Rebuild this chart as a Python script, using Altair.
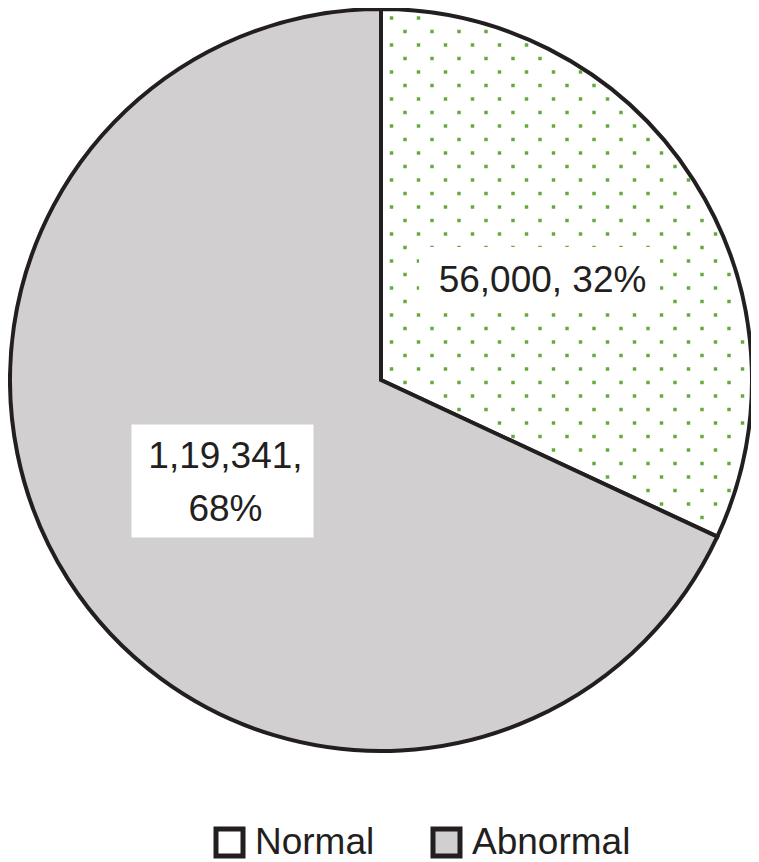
import math
import altair as alt
import pandas as pd

# ---- data ----
categories = ["Normal", "Abnormal"]
counts = [56000, 119341]
labels = ["56,000, 32%", "1,19,341,\n68%"]
order = [0, 1]

# ---- styles ----
fills = ["#ffffff", "#d1cfd0"]
INK = "#231f20"
DOT = "#62aa3c"
FONT = "Liberation Sans"
CX, CY, R = 373, 372, 371   # pie centre / radius in pixels
LR = 188                     # label radius
W, H = 743, 854

df = pd.DataFrame({"category": categories, "count": counts, "label": labels, "order": order})

base = (
    alt.Chart(df)
    .transform_joinaggregate(total="sum(count)")
    .transform_window(cum="sum(count)", sort=[alt.SortField("order")], frame=[None, 0])
    .transform_calculate(a0="2*PI*(datum.cum - datum.count)/datum.total")
    .transform_calculate(a1="2*PI*datum.cum/datum.total")
    .transform_calculate(amid="(datum.a0 + datum.a1)/2")
    .transform_calculate(lx=f"{CX} + {LR}*sin(datum.amid)")
    .transform_calculate(ly=f"{CY} - {LR}*cos(datum.amid)")
)

legend = alt.Legend(
    orient="none", legendX=203, legendY=816, direction="horizontal", title=None,
    symbolType="square", symbolSize=729, symbolStrokeColor=INK, symbolStrokeWidth=5,
    symbolOpacity=1, labelFontSize=37, labelFont=FONT, labelColor=INK,
    labelOffset=7, columnPadding=48, padding=0, labelLimit=400,
)

arcs = base.mark_arc(radius=R, stroke=INK, strokeWidth=4, strokeJoin="miter", opacity=1).encode(
    theta=alt.Theta("a0:Q", scale=None),
    theta2="a1:Q",
    x=alt.value(CX),
    y=alt.value(CY),
    color=alt.Color("category:N", scale=alt.Scale(domain=categories, range=fills), legend=legend),
)

# dotted fill pattern for the first slice
N = 29
M = 2 * N + 1
frac = counts[0] / sum(counts)
aend = 2 * math.pi * frac
ca, sa = math.cos(aend), math.sin(aend)
dots = (
    alt.Chart(alt.sequence(0, M * M, as_="k"))
    .transform_calculate(i=f"floor(datum.k / {M}) - {N}")
    .transform_calculate(j=f"datum.k % {M} - {N}")
    .transform_calculate(dx="10.5 + 13.5*datum.i")
    .transform_calculate(dy="2.5 + 13.5*datum.j")
    .transform_calculate(ang="(atan2(datum.dx, -datum.dy) + 2*PI) % (2*PI)")
    .transform_calculate(rr="sqrt(datum.dx*datum.dx + datum.dy*datum.dy)")
    .transform_calculate(px=f"{CX} + datum.dx", py=f"{CY} + datum.dy")
    .transform_filter(
        f"abs(datum.i + datum.j) % 2 == 1 && datum.rr < {R - 4} && datum.dx > 4 "
        f"&& datum.ang < {aend} && abs(datum.dx*{-ca} - datum.dy*{sa}) > 4"
    )
    .mark_square(size=12, color=DOT, opacity=1, filled=True)
    .encode(x=alt.X("px:Q", scale=None, axis=None), y=alt.Y("py:Q", scale=None, axis=None))
)

def box(idx, w, h):
    r = h / w
    return (
        base.transform_filter(alt.datum.order == idx)
        .mark_point(shape=f"M-1,-{r:.4f}H1V{r:.4f}H-1Z", size=w * w, filled=True,
                    fill="white", opacity=1, strokeWidth=0)
        .encode(x=alt.X("lx:Q", scale=None, axis=None), y=alt.Y("ly:Q", scale=None, axis=None))
    )

box1 = box(0, 241, 64)
box2 = box(1, 182, 113)

def label(idx, dy):
    return base.transform_filter(alt.datum.order == idx).mark_text(
        fontSize=37, font=FONT, color=INK, lineBreak="\n", lineHeight=53,
        align="center", baseline="middle", dx=3, dy=dy,
    ).encode(
        x=alt.X("lx:Q", scale=None, axis=None),
        y=alt.Y("ly:Q", scale=None, axis=None),
        text="label:N",
    )

text1 = label(0, 2)
text2 = label(1, -24)

chart = (
    alt.layer(arcs, dots, box1, box2, text1, text2)
    .properties(width=W, height=H, autosize=alt.AutoSizeParams(type="none"), padding=0,
                background="white")
    .configure_view(stroke=None)
)

chart.save("out.html", embed_options={"renderer": "svg", "actions": False})
